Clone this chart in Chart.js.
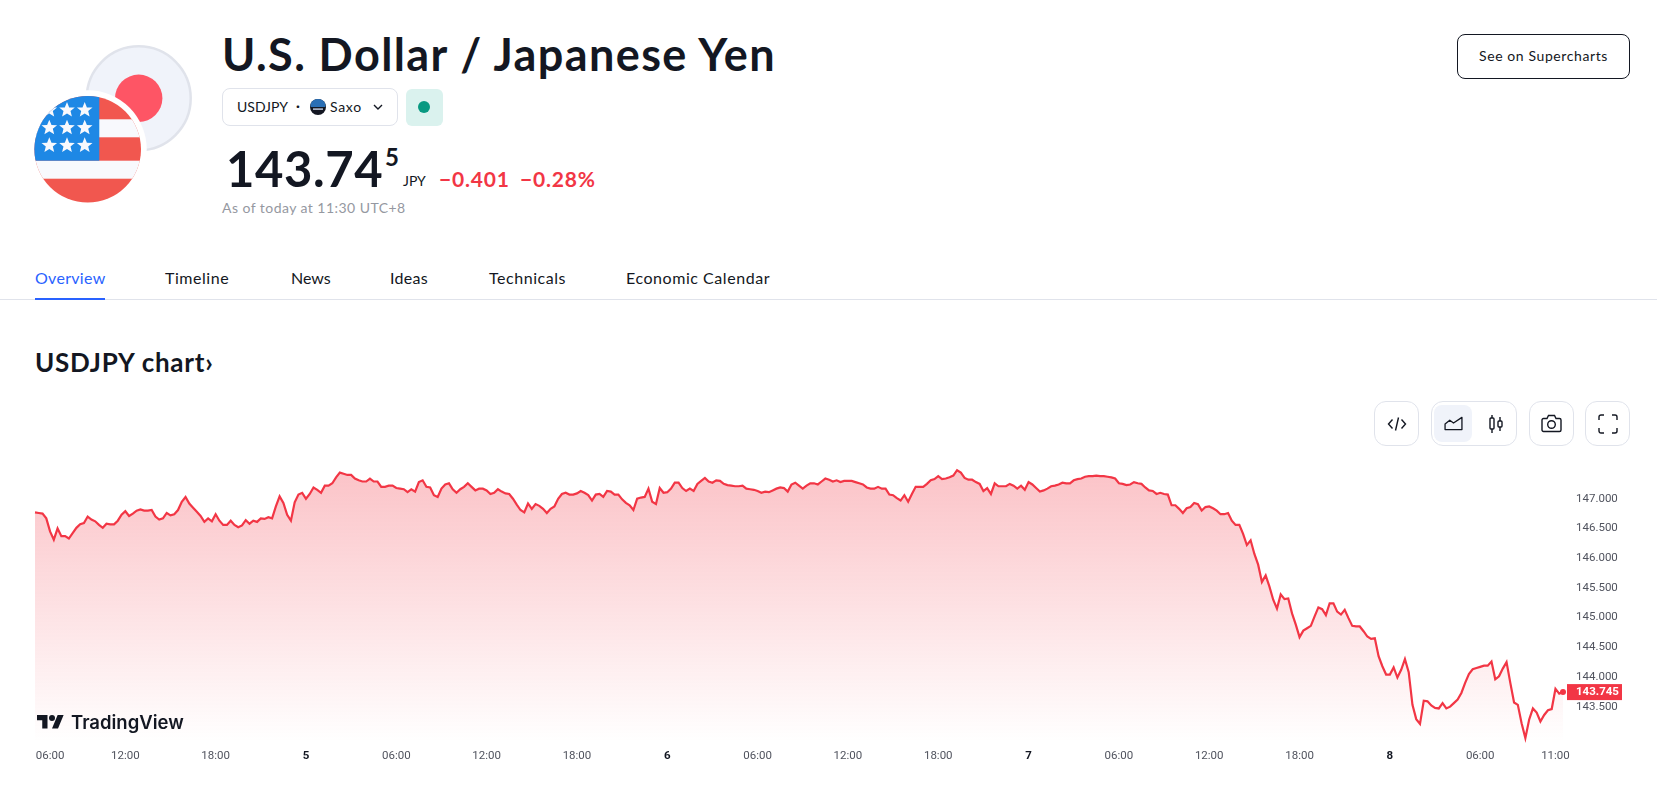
<!DOCTYPE html>
<html lang="en">
<head>
    <meta charset="UTF-8">
    <title>U.S. Dollar / Japanese Yen</title>
    <script src="https://cdn.jsdelivr.net/npm/chart.js"></script>
    <style>
        html, body { margin: 0; padding: 0; background: #fff; overflow: hidden; }
        body { width: 1657px; height: 787px; position: relative; font-family: "Lato", "Open Sans", sans-serif; color: #131722; }
        .abs { position: absolute; white-space: nowrap; }
        .tab { position: absolute; top: 268px; font-size: 16px; line-height: 20px; white-space: nowrap; letter-spacing: 0.55px; }
        .box { position: absolute; box-sizing: border-box; border: 1px solid #e0e3eb; border-radius: 12px; background: #fff; z-index: 2; }
        svg { position: absolute; display: block; overflow: visible; }
        canvas { position: absolute; left: 0; top: 440px; z-index: 1; }
    </style>
</head>
<body>
    <!-- flags -->
    <svg style="left:0;top:0" width="200" height="215" viewBox="0 0 200 215">
        <defs>
            <clipPath id="usClip"><circle cx="87.7" cy="149.3" r="53.3"/></clipPath>
            <path id="star" d="M0 -8 L2.2 -2.6 L7.8 -2.4 L3.5 1.1 L4.9 6.6 L0 3.6 L-4.9 6.6 L-3.5 1.1 L-7.8 -2.4 L-2.2 -2.6 Z" fill="#f8f9fd"/>
        </defs>
        <circle cx="138.7" cy="98.3" r="52" fill="#f0f3fa" stroke="#e0e3eb" stroke-width="2.5"/>
        <circle cx="138.7" cy="98.3" r="23.7" fill="#fe5565"/>
        <circle cx="87.7" cy="149.3" r="59" fill="#fff"/>
        <g clip-path="url(#usClip)">
            <rect x="30" y="94" width="120" height="110" fill="#f1574f"/>
            <rect x="30" y="119.3" width="120" height="18" fill="#f8f9fd"/>
            <rect x="30" y="160.7" width="120" height="18" fill="#f8f9fd"/>
            <rect x="30" y="94" width="69.3" height="66.7" fill="#1e88e5"/>
            <use href="#star" x="49.3" y="110"/><use href="#star" x="67" y="110"/><use href="#star" x="84.7" y="110"/>
            <use href="#star" x="49.3" y="127.7"/><use href="#star" x="67" y="127.7"/><use href="#star" x="84.7" y="127.7"/>
            <use href="#star" x="49.3" y="145.3"/><use href="#star" x="67" y="145.3"/><use href="#star" x="84.7" y="145.3"/>
        </g>
    </svg>

    <div class="abs" id="title" style="left:222px;top:26px;font-size:45px;line-height:56px;font-weight:700;letter-spacing:1.4px">U.S. Dollar / Japanese Yen</div>

    <div class="abs" style="left:222px;top:88px;width:176px;height:38px;box-sizing:border-box;border:1px solid #e0e3eb;border-radius:8px"></div>
    <div class="abs" style="left:237px;top:98px;font-size:14px;line-height:18px">USDJPY</div>
    <div class="abs" style="left:296px;top:98px;font-size:14px;line-height:16px;font-weight:700">·</div>
    <svg style="left:310px;top:99px" width="16" height="16" viewBox="0 0 16 16">
        <circle cx="8" cy="8" r="8" fill="#131722"/>
        <path d="M0.6 5 A8 8 0 0 1 15.4 5 L15.4 8 L0.6 8 Z" fill="#2a6fb5"/>
        <rect x="3" y="9.4" width="10" height="1.4" fill="#c9d3e6"/>
    </svg>
    <div class="abs" style="left:330px;top:98px;font-size:14px;line-height:18px;letter-spacing:0.7px">Saxo</div>
    <svg style="left:373px;top:104px" width="10" height="6" viewBox="0 0 10 6"><path d="M1 1 L5 5 L9 1" fill="none" stroke="#131722" stroke-width="1.4"/></svg>

    <div class="abs" style="left:406px;top:89px;width:37px;height:37px;border-radius:6px;background:#daf2ee"></div>
    <div class="abs" style="left:418px;top:101px;width:12px;height:12px;border-radius:50%;background:#089981"></div>

    <div class="abs" id="price" style="left:226px;top:137px;font-size:49px;line-height:62px;font-weight:700;letter-spacing:0.6px">143.74</div>
    <div class="abs" style="left:385px;top:142px;font-size:24px;line-height:30px;font-weight:700">5</div>
    <div class="abs" style="left:403px;top:172px;font-size:14px;line-height:18px">JPY</div>
    <div class="abs" style="left:439px;top:166px;font-size:21px;line-height:26px;font-weight:700;color:#f23645;letter-spacing:0.8px">−0.401</div>
    <div class="abs" style="left:520px;top:166px;font-size:21px;line-height:26px;font-weight:700;color:#f23645;letter-spacing:0.8px">−0.28%</div>
    <div class="abs" style="left:222px;top:199px;font-size:14px;line-height:18px;color:#9598a1;letter-spacing:0.45px">As of today at 11:30 UTC+8</div>

    <div class="abs" style="left:1457px;top:34px;width:173px;height:45px;box-sizing:border-box;border:1px solid #131722;border-radius:8px;text-align:center;font-size:14px;line-height:41px;letter-spacing:0.6px">See on Supercharts</div>

    <div class="tab" style="left:35px;color:#2962ff;letter-spacing:0.3px">Overview</div>
    <div class="tab" style="left:165px">Timeline</div>
    <div class="tab" style="left:291px;letter-spacing:0">News</div>
    <div class="tab" style="left:390px;letter-spacing:0.3px">Ideas</div>
    <div class="tab" style="left:489px">Technicals</div>
    <div class="tab" style="left:626px">Economic Calendar</div>
    <div class="abs" style="left:0;top:299px;width:1657px;height:1px;background:#e0e3eb"></div>
    <div class="abs" style="left:35px;top:298px;width:70px;height:2px;background:#2962ff"></div>

    <div class="abs" style="left:35px;top:346px;font-size:26px;line-height:32px;font-weight:700;letter-spacing:0.75px">USDJPY chart›</div>

    <!-- toolbar -->
    <div class="box" style="left:1374px;top:401px;width:45px;height:45px"></div>
    <svg style="left:1387px;top:414px;z-index:3" width="20" height="20" viewBox="0 0 20 20"><path d="M5.5 5.5 L1.5 10 L5.5 14.5 M14.5 5.5 L18.5 10 L14.5 14.5 M11.5 3.5 L8.5 16.5" fill="none" stroke="#131722" stroke-width="1.4"/></svg>
    <div class="box" style="left:1431px;top:401px;width:86px;height:45px"></div>
    <div class="abs" style="left:1434px;top:405px;width:38px;height:37px;border-radius:8px;background:#f0f3fa;z-index:3"></div>
    <svg style="left:1444px;top:416px;z-index:4" width="19" height="15" viewBox="0 0 20 16"><path d="M1 14.5 L1 8.5 L6 4.5 L10 7.5 L19 1.5 L19 14.5 Z" fill="none" stroke="#131722" stroke-width="1.4" stroke-linejoin="round"/></svg>
    <svg style="left:1489px;top:414px;z-index:3" width="16" height="20" viewBox="0 0 16 20"><rect x="1" y="4" width="4" height="11" rx="1" fill="none" stroke="#131722" stroke-width="1.4"/><path d="M3 1 V4 M3 15 V19 M11 3 V7 M11 13 V17" stroke="#131722" stroke-width="1.4"/><rect x="9" y="7" width="4" height="6" rx="1" fill="none" stroke="#131722" stroke-width="1.4"/></svg>
    <div class="box" style="left:1529px;top:401px;width:45px;height:45px"></div>
    <svg style="left:1541px;top:414px;z-index:3" width="21" height="19" viewBox="0 0 21 19"><path d="M2.5 4.5 H6 L7.5 1.5 H13.5 L15 4.5 H18.5 A1.5 1.5 0 0 1 20 6 V16 A1.5 1.5 0 0 1 18.5 17.5 H2.5 A1.5 1.5 0 0 1 1 16 V6 A1.5 1.5 0 0 1 2.5 4.5 Z" fill="none" stroke="#131722" stroke-width="1.4"/><circle cx="10.5" cy="10.5" r="3.8" fill="none" stroke="#131722" stroke-width="1.4"/></svg>
    <div class="box" style="left:1585px;top:401px;width:45px;height:45px"></div>
    <svg style="left:1598px;top:414px;z-index:3" width="20" height="20" viewBox="0 0 20 20"><path d="M1 6 V3 A2 2 0 0 1 3 1 H6 M14 1 H17 A2 2 0 0 1 19 3 V6 M19 14 V17 A2 2 0 0 1 17 19 H14 M6 19 H3 A2 2 0 0 1 1 17 V14" fill="none" stroke="#131722" stroke-width="1.4"/></svg>

    <canvas id="usdjpyChart" width="1657" height="347"></canvas>

    <!-- watermark -->
    <svg style="left:37px;top:712px;z-index:3" width="27" height="21" viewBox="0 0 36 28"><path d="M14 22H7V11H0V4h14v18zM28 22h-8l7.5-18h8L28 22z" fill="#131722"/><circle cx="20" cy="8" r="4" fill="#131722"/></svg>
    <div class="abs" style="left:71px;top:709px;font-family:Inter,sans-serif;font-size:18.5px;line-height:26px;font-weight:600;color:#131722;z-index:3">TradingView</div>

    <script>
        const closes = [
            146.77,146.76,146.75,146.67,146.45,146.31,146.50,146.37,146.37,146.33,146.42,146.51,146.57,146.59,146.70,146.65,146.62,146.56,146.51,146.58,146.57,146.57,146.63,146.73,
            146.79,146.71,146.75,146.80,146.82,146.80,146.80,146.81,146.70,146.65,146.67,146.76,146.72,146.74,146.81,146.95,147.03,146.92,146.85,146.78,146.71,146.61,146.67,146.62,
            146.74,146.63,146.56,146.56,146.63,146.56,146.52,146.55,146.64,146.58,146.63,146.61,146.67,146.66,146.69,146.67,146.87,147.04,146.93,146.73,146.63,
            146.94,147.07,147.10,147.00,147.08,147.19,147.15,147.10,147.22,147.22,147.26,147.36,147.44,147.42,147.40,147.40,147.34,147.31,147.29,147.29,147.34,147.29,147.29,147.20,
            147.20,147.22,147.22,147.18,147.17,147.16,147.11,147.16,147.12,147.28,147.31,147.20,147.19,147.06,147.03,147.17,147.24,147.26,147.16,147.10,147.16,147.20,147.26,147.20,
            147.14,147.17,147.17,147.14,147.08,147.10,147.16,147.12,147.09,147.08,147.00,146.90,146.81,146.77,146.92,146.83,146.91,146.88,146.83,146.76,146.83,
            146.87,147.00,147.08,147.10,147.07,147.07,147.09,147.13,147.10,147.06,146.97,147.07,147.08,147.03,147.13,147.12,147.07,147.07,146.99,146.93,146.89,146.81,147.00,147.02,
            147.03,147.17,146.95,146.91,147.18,147.10,147.11,147.17,147.27,147.27,147.18,147.13,147.17,147.13,147.25,147.30,147.35,147.29,147.27,147.31,147.30,147.25,147.23,147.22,
            147.21,147.21,147.22,147.17,147.16,147.15,147.13,147.10,147.12,147.11,147.14,147.17,147.19,147.18,147.12,147.24,147.27,147.22,147.17,147.22,147.26,
            147.26,147.24,147.29,147.34,147.32,147.29,147.31,147.28,147.30,147.30,147.30,147.28,147.26,147.24,147.19,147.17,147.17,147.20,147.17,147.17,147.07,147.06,147.01,146.97,
            147.06,146.95,147.08,147.20,147.20,147.20,147.25,147.31,147.33,147.38,147.33,147.34,147.36,147.39,147.48,147.44,147.35,147.32,147.32,147.28,147.25,147.13,147.18,147.08,
            147.26,147.21,147.21,147.21,147.25,147.22,147.17,147.22,147.15,147.28,147.24,147.18,147.12,147.14,147.17,147.21,147.22,147.24,147.27,147.26,147.26,
            147.31,147.33,147.34,147.37,147.38,147.38,147.39,147.38,147.38,147.37,147.36,147.34,147.26,147.25,147.23,147.24,147.28,147.26,147.25,147.19,147.14,147.13,147.08,147.10,
            147.08,147.07,146.89,146.89,146.83,146.76,146.84,146.86,146.93,146.91,146.80,146.86,146.87,146.84,146.80,146.74,146.74,146.76,146.63,146.56,146.56,146.41,146.22,146.30,
            146.07,145.89,145.60,145.71,145.52,145.30,145.15,145.39,145.31,145.32,145.07,144.88,144.67,144.78,144.82,144.86,145.02,145.17,145.14,145.04,145.24,
            145.24,145.10,145.05,145.13,144.99,144.86,144.85,144.85,144.77,144.68,144.64,144.65,144.35,144.18,144.04,144.04,144.16,143.99,144.12,144.30,144.08,143.53,143.29,143.21,
            143.60,143.59,143.52,143.48,143.47,143.56,143.47,143.50,143.56,143.62,143.73,143.90,144.05,144.13,144.15,144.17,144.19,144.19,144.26,143.96,144.01,144.14,144.25,143.90,
            143.57,143.53,143.22,142.97,143.28,143.47,143.40,143.25,143.36,143.44,143.46,143.80,143.72,143.745
        ];
        const xTickIndex = [4, 24, 48, 72, 96, 120, 144, 168, 192, 216, 240, 264, 288, 312, 336, 360, 384, 404];
        const xTickText = ["06:00", "12:00", "18:00", "5", "06:00", "12:00", "18:00", "6", "06:00", "12:00", "18:00", "7", "06:00", "12:00", "18:00", "8", "06:00", "11:00"];
        const dayLabels = ["5", "6", "7", "8"];
        const yTicks = [143.5, 144, 144.5, 145, 145.5, 146, 146.5, 147];
        const lastPrice = "143.745";

        const categories = closes.map(() => "");
        xTickIndex.forEach((idx, i) => { categories[idx] = xTickText[i]; });

        // red price tag on the right axis
        const priceTag = {
            id: "priceTag",
            afterDraw(chart) {
                const ctx = chart.ctx;
                const y = chart.scales.y.getPixelForValue(Number(lastPrice));
                ctx.save();
                ctx.fillStyle = "#f23645";
                ctx.fillRect(1567, y - 8, 55, 16);
                ctx.fillStyle = "#fff";
                ctx.font = "700 11.5px Roboto";
                ctx.textAlign = "left";
                ctx.textBaseline = "middle";
                ctx.fillText(lastPrice, 1576, y + 0.5);
                ctx.restore();
            }
        };

        new Chart(document.getElementById("usdjpyChart"), {
            type: "line",
            plugins: [priceTag],
            data: {
                labels: categories,
                datasets: [{
                    data: closes,
                    borderColor: "#f23645",
                    borderWidth: 2.2,
                    tension: 0,
                    clip: false,
                    fill: "start",
                    pointRadius: c => c.dataIndex === closes.length - 1 ? 3 : 0,
                    pointBackgroundColor: "#f23645",
                    pointBorderWidth: 0,
                    backgroundColor(c) {
                        const area = c.chart.chartArea;
                        if (!area) return "rgba(242,54,69,0.31)";
                        const g = c.chart.ctx.createLinearGradient(0, area.top, 0, area.bottom);
                        g.addColorStop(0, "rgba(242,54,69,0.31)");
                        g.addColorStop(1, "rgba(242,54,69,0)");
                        return g;
                    }
                }]
            },
            options: {
                responsive: false,
                animation: false,
                layout: { padding: { left: 35, top: 20 } },
                plugins: { legend: { display: false }, tooltip: { enabled: false } },
                scales: {
                    x: {
                        offset: false,
                        border: { display: false },
                        grid: { display: false, drawTicks: false },
                        afterFit(s) { s.height = 45; },
                        ticks: {
                            autoSkip: false,
                            maxRotation: 0,
                            minRotation: 0,
                            padding: 7,
                            color: c => dayLabels.includes(c.tick.label) ? "#131722" : "#50535e",
                            font: c => ({ family: "Roboto", size: 11.5, weight: dayLabels.includes(c.tick.label) ? "700" : "400" })
                        }
                    },
                    y: {
                        position: "right",
                        min: 142.905,
                        max: 147.652,
                        border: { display: false },
                        grid: { display: false, drawTicks: false },
                        afterFit(s) { s.width = 94; },
                        afterBuildTicks(s) { s.ticks = yTicks.map(v => ({ value: v })); },
                        ticks: {
                            padding: 13,
                            color: "#50535e",
                            font: { family: "Roboto", size: 11.5 },
                            callback: v => v.toFixed(3)
                        }
                    }
                }
            }
        });
    </script>
</body>
</html>
